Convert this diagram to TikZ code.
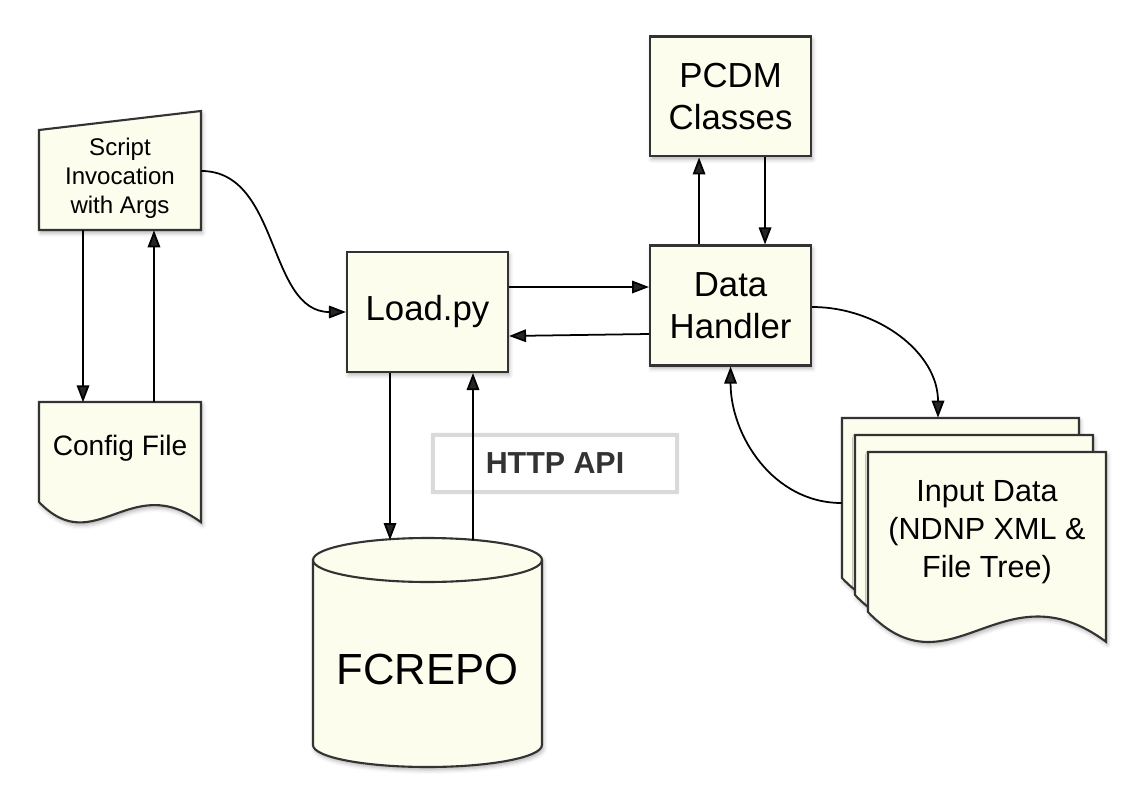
\documentclass[tikz,border=0pt]{standalone}
\usepackage{fontspec}
\setmainfont{Liberation Sans}
\usetikzlibrary{arrows.meta}
\usetikzlibrary{shadows.blur, positioning}

\definecolor{paper}{RGB}{253,253,238}
\definecolor{edge}{RGB}{51,51,51}

% document outline with a wavy bottom: left, top, right, bottom-left
\newcommand{\docshape}[4]{%
  \pgfmathsetmacro{\dw}{#3-#1}
  \filldraw[shapeline] (#1,#2) -- (#3,#2) -- (#3,{#4+0.125*\dw})
    .. controls ({#1+0.562*\dw},{#4-0.2*\dw}) and ({#1+0.346*\dw},{#4+0.36*\dw}) .. (#1,#4) -- cycle;
}

\begin{document}
\begin{tikzpicture}[x=0.02cm, y=-0.02cm,
    shapeline/.style={draw=edge, line width=1.2pt, fill=paper,
        blur shadow={shadow xshift=0.03cm, shadow yshift=-0.06cm, shadow blur radius=0.08cm, shadow opacity=30}},
    box/.style={rectangle, shapeline, minimum width=3.22cm, minimum height=2.4cm, align=center, font=\fontsize{19.8}{23.9}\selectfont},
    textonly/.style={rectangle, inner sep=0pt, align=center},
    arr/.style={-{Triangle[length=0.34cm, width=0.25cm]}, line width=1pt}]
    \useasboundingbox (0,0) rectangle (1146,808);

    % Main components
    \node [box] (load) at (427.5,312) {Load.py};
    \node [box, right=2.8cm of load, yshift=0.13cm] (handler) {Data\\Handler};
    \node [box, above=1.74cm of handler] (pcdm) {PCDM\\Classes};

    % Script invocation and config file
    \filldraw[shapeline] (39,230) -- (201,230) -- (201,111) -- (39,130) -- cycle;
    \node [textonly, minimum width=3.24cm, minimum height=2.08cm, font=\fontsize{13.7}{16.5}\selectfont] (script) at (120,178) {Script\\Invocation\\with Args};
    \docshape{39}{402}{201}{502}
    \node [textonly, minimum width=3.24cm, minimum height=1.84cm, font=\fontsize{16}{19}\selectfont, below=3.44cm of script] (config) {Config File};

    % Repository
    \filldraw[shapeline] (313,560) -- (313,745) arc[start angle=180, end angle=360, x radius=2.29cm, y radius=0.44cm]
        -- (542,560) arc[start angle=0, end angle=180, x radius=2.29cm, y radius=0.44cm] -- cycle;
    \draw[draw=edge, line width=1.2pt] (313,560) arc[start angle=180, end angle=360, x radius=2.29cm, y radius=0.44cm];
    \node [textonly, minimum width=4.58cm, minimum height=4.58cm, text height=35pt, font=\fontsize{24.8}{28}\selectfont, below=3.32cm of load] (fcrepo) {FCREPO};

    % HTTP API
    \node [rectangle, draw=black!15, line width=2.5pt, fill=white, minimum width=4.88cm, minimum height=1.14cm,
        blur shadow={shadow xshift=0cm, shadow yshift=0cm, shadow blur radius=0.06cm, shadow opacity=25},
        font=\bfseries\fontsize{17.3}{20}\selectfont, text=black!80] (http) at (555,463.5) {HTTP API};

    % Input data stack
    \docshape{842}{418}{1079}{578}
    \docshape{855}{435}{1093}{595}
    \docshape{868}{452}{1106}{612}
    \node [textonly, minimum width=4.76cm, minimum height=3.2cm, font=\fontsize{17.4}{21.6}\selectfont] (inputs) at (987,532) {Input Data\\(NDNP XML \&\\File Tree)};

    % Arrows
    \draw [arr] ([xshift=-0.74cm]script.south) -- ([xshift=-0.74cm]config.north);
    \draw [arr] ([xshift=0.68cm]config.north) -- ([xshift=0.68cm]script.south);
    \draw [arr] ([yshift=0.14cm]script.east) to[out=0, in=180] (load.west);

    \draw [arr] ([yshift=0.5cm]load.east) -- ([yshift=0.5cm]load.east -| handler.west);
    \draw [arr] ([yshift=-0.57cm]handler.west) -- ([yshift=-0.48cm]load.east);

    \draw [arr] ([xshift=-0.63cm]handler.north) -- ([xshift=-0.63cm]pcdm.south);
    \draw [arr] ([xshift=0.69cm]pcdm.south) -- ([xshift=0.69cm]handler.north);

    \draw [arr] ([xshift=-0.75cm]load.south) -- ([xshift=-0.75cm, yshift=-0.02cm]fcrepo.north);
    \draw [arr] ([xshift=0.91cm, yshift=-0.02cm]fcrepo.north) -- ([xshift=0.91cm]load.south);

    \draw [arr] ([yshift=-0.03cm]handler.east) to[out=0, in=90] ([xshift=-0.98cm, yshift=0.68cm]inputs.north);
    \draw [arr] ([xshift=-0.52cm, yshift=0.58cm]inputs.west) to[out=180, in=-90] (handler.south);

\end{tikzpicture}
\end{document}
